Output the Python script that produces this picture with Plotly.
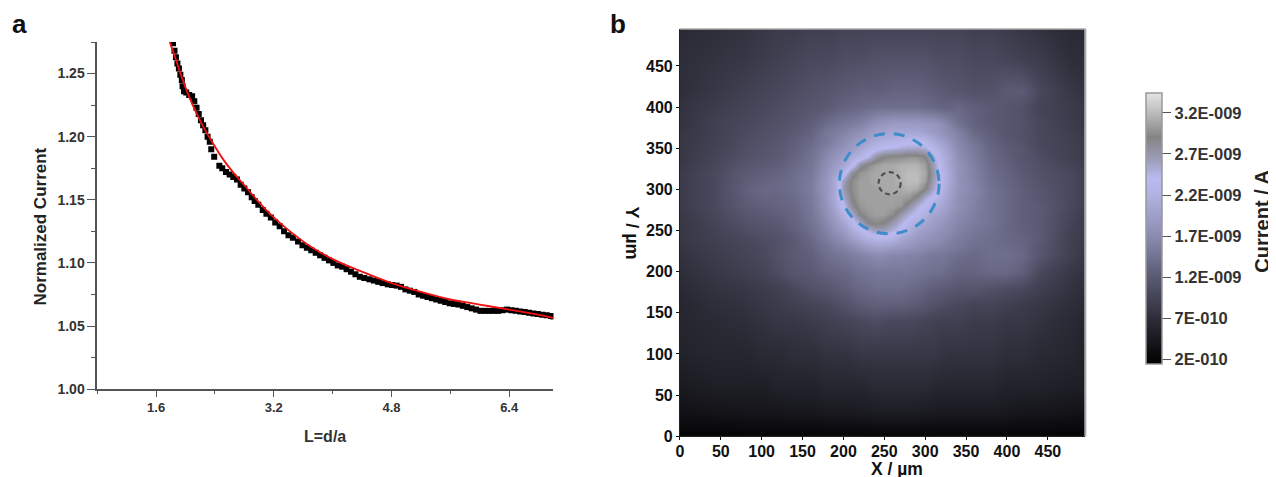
import plotly.graph_objects as go

W, H = 1276, 477

# Panel a: approach curve
scan_x = [1.83,1.85,1.87,1.89,1.91,1.93,1.95,1.96,1.98,2.01,2.05,2.09,2.12,2.15,2.18,2.21,2.24,2.27,2.30,2.33,2.35,2.39,
          2.46,2.50,2.55,2.60,2.65,2.70,2.75,2.80,2.85,2.90,2.94,2.99,3.05,3.10,3.16,3.22,3.28,3.34,3.40,3.46,3.53,3.59,
          3.65,3.71,3.77,3.83,3.89,3.95,4.01,4.07,4.13,4.19,4.25,4.31,4.37,4.43,4.50,4.56,4.62,4.68,4.75,4.81,4.87,4.93,
          4.99,5.05,5.11,5.17,5.23,5.29,5.35,5.41,5.47,5.53,5.59,5.65,5.71,5.77,5.83,5.89,5.95,6.01,6.07,6.13,6.19,6.25,
          6.31,6.37,6.43,6.49,6.55,6.61,6.67,6.73,6.79,6.85,6.91,6.97,7.0]
scan_y = [1.274,1.268,1.263,1.258,1.254,1.249,1.245,1.240,1.236,1.235,1.233,1.232,1.228,1.223,1.218,1.213,1.209,1.205,1.200,1.196,1.190,1.184,
          1.177,1.175,1.172,1.170,1.168,1.166,1.162,1.159,1.156,1.152,1.149,1.146,1.142,1.139,1.136,1.132,1.129,1.125,1.122,1.120,1.117,1.114,
          1.112,1.110,1.108,1.106,1.104,1.102,1.100,1.098,1.097,1.095,1.093,1.091,1.089,1.088,1.087,1.086,1.085,1.084,1.083,1.0825,1.082,1.081,
          1.079,1.078,1.077,1.075,1.074,1.073,1.072,1.071,1.070,1.069,1.068,1.0675,1.067,1.066,1.065,1.064,1.063,1.062,1.062,1.062,1.062,1.062,
          1.0625,1.063,1.0625,1.062,1.0615,1.061,1.0605,1.060,1.0595,1.059,1.0585,1.058,1.0575]
fit_x = [1.78,1.86,1.95,2.05,2.15,2.25,2.35,2.5,2.65,2.8,3.0,3.2,3.4,3.7,4.0,4.4,4.8,5.2,5.6,6.0,6.4,6.7,7.0]
fit_y = [1.276,1.2627,1.247,1.2315,1.2185,1.207,1.197,1.183,1.1715,1.1615,1.148,1.136,1.126,1.113,1.103,1.093,1.084,1.077,1.071,1.067,1.063,1.060,1.0565]

# Panel b: current map, values in units of 1E-10 A
map_x = [0,40,80,100,120,140,160,170,180,190,200,210,220,230,240,250,260,270,280,290,300,310,320,330,340,360,380,400,420,440,480,495]
map_y = [495,460,420,400,380,370,360,350,340,330,320,310,300,290,280,270,260,250,240,230,220,200,180,160,140,100,60,30,0]
map_current = [
 [6.5,7,7.5,8,8.5,8.5,9, 9,9,9.2,9.5,9.5,9.5,9.5,9.5,9.5,9.5,9.5,9.5,9.5,9.5,9.5,9.5,9.5,9.5, 9,9,8.5,8,7.5,6.5,6.5],
 [7,7.5,8,8.5,9,9.5,10, 10,10,10.2,10.5,10.5,10.5,10.7,11,11,11,11,11,11,11,10.7,10.5,10.5,10.5, 10,10,9.5,9,8.5,7,7],
 [7,8,9,9.5,10,10.5,11, 11.2,11.5,11.7,12,12.2,12.5,12.5,12.5,12.7,13,13,13,13,12.7,12.5,12,11.7,11.5, 11,11,12,12,10,8,7.5],
 [7.5,8.5,9.5,10,10.5,11,11.5, 11.7,12,12.5,13,13.2,13.5,13.7,14,14,14,14,14,14,13.7,13.5,13,13,13.5, 12.5,12,11.5,11,9.5,8.5,8],
 [7.5,9,10,10.5,11,11.5,12.5, 13.2,14,14.5,15,15.5,16,17,18,18.5,19,19,19,19,18.7,18.5,17.5,16,14.5, 13,12,11.5,11,10,8.5,8],
 [7.8,9,10.2,10.8,11.2,12,13, 14,15,15.5,16,17,17.5,18.5,19.5,20,20.5,20.5,20.5,20.5,20,19,18,17,16, 13.5,12.5,11.5,11,10,8.8,8.2],
 [8,9,10.5,11,11.5,12.5,13.5, 14.5,15,16,17,18,19,20,21,21.5,22,22.5,23,23,22.5,21,19.5,18,16.5, 14.5,12.8,11.8,11,10,9,8.5],
 [8,9.2,10.7,11.2,11.8,12.7,14, 15,16,17,18,19,20.5,22,23,24,24.5,25,25.5,25.5,25,23,21,19,17, 15.2,13.2,12.2,11.5,10.2,9,8.5],
 [8,9.5,11,11.5,12,13,14.5, 15.5,17,18,19.5,21,22.5,24.5,27.5,29,29.5,29.5,30,30,29,25.5,22,20,17.5, 15.5,13.5,12.5,11.5,10.5,9,8.5],
 [8.2,9.7,11.5,12,12.5,13.5,14.7, 16,17.5,19,20.5,23,27.5,29.5,30.5,31,31,31.5,31.5,31.5,30.5,26.5,22.5,20,18, 15.8,13.7,12.7,11.7,10.8,9.5,8.7],
 [8.5,10,12,12.5,13,14,15, 16.5,18,20,23,28,30,30.5,31,31,31,31.5,32,32,31,27,23,20.5,18, 16,14,13,12,11,10,9],
 [8.5,10,12.2,13,13.5,14,15.2, 17,18.5,21,26.5,29.5,30.5,30.5,31,31,31,31.5,32,32,30.5,26.5,23,20.5,18, 16.2,14.2,13.2,12.2,11.2,10,9],
 [8.5,10,12.5,13.5,13.5,14,15.5, 17,18.5,21,27,29.5,30.5,30.5,30.5,31,31,31,31.5,31,29,25.5,22.5,20,18, 16.5,14.5,13.5,12.5,11.5,10,9],
 [8.5,10,12.2,13,13.2,13.7,15.2, 16.5,18.5,21,25.5,29,30.5,30.5,30.5,30.5,30.5,30.5,30,28,25,23.5,21.5,19.5,17.5, 16.2,14.5,13.5,12.5,11.7,10,9],
 [8.5,10,12,12.5,13,13.5,15, 16.5,18,20.5,24,28,30,30.5,30.5,30.5,30.5,30,27.5,25,23.5,22,20.5,19,17.5, 16,14.5,13.5,12.5,12,10,9],
 [8.2,9.7,11.5,12,12.5,13.2,14.7, 16,17.5,19.5,22.5,25.5,29,30,30.5,30.5,29.5,27,25,23.5,22,20.5,19.5,18,17, 15.7,14.5,13.5,12.5,12,9.7,8.7],
 [8,9.5,11,11.5,12,13,14.5, 15.5,17,18.5,20.5,23,26,29,29.5,29,27,25,23,21.5,20.5,19.5,18.5,17.5,16.5, 15.5,14.5,13.5,12.5,12,9.5,8.5],
 [8,9.2,10.5,11,11.5,12.5,14, 15,16,17.5,19,21,22.5,24.5,26,26,24.5,23,21.5,20,19,18.5,17.5,17,16, 15,14.2,13.5,12.7,12,9.2,8.5],
 [8,9,10,10.5,11,12,13.5, 14.5,15.5,16.5,17.5,19,20.5,21.5,22.5,22.5,22,20.5,19.5,18.5,18,17.5,17,16,15.5, 14.5,14,13.5,13,12,9,8.5],
 [7.8,8.7,9.7,10.2,11,12,13, 14,14.5,15.5,16,17,18,19,19.5,19.5,19,18.5,18,17.5,17,16.5,16,15.5,15, 14,14,13.7,13.2,11.7,9,8.2],
 [7.5,8.5,9.5,10,11,12,12.5, 13.5,14,14.5,15,15.5,16,16.5,17,17,16.5,16.5,16,16,15.5,15,15,14.5,14, 13.5,14,14,13.5,11.5,9,8],
 [7,8,9,9.5,10.5,11.5,12, 12.5,13,13.2,13.5,14,14.5,14.7,15,15,15,15,15,14.7,14.5,14.2,14,13.5,13, 13,13.5,13.5,12.5,10,8,7.5],
 [6.5,7.5,8,8.5,9,10,11, 11.2,11.5,12,12.5,13,13.5,13.7,14,14,14,14,13.7,13.5,13,12.5,12.2,12,11.5, 11.5,11,10.5,10,9,7.5,7],
 [6,7,7.5,8,8.5,9,9.5, 9.7,10,10.5,11,11.5,12,12.2,12.5,12.5,12.5,12.5,12.2,12,11.5,11,10.7,10.2,10, 9.5,9.5,9,8.5,8,7,6.5],
 [6,6.5,7,7.5,8,8,8.5, 8.7,9,9.2,9.5,9.7,10,10.2,10.5,10.2,10,10,10,9.7,9.5,9.2,9,9,9, 8.5,8.5,8,8,7.5,6.5,6],
 [5.5,6,6,6.5,6.5,7,7, 7.2,7.5,7.5,7.5,7.7,8,8,8,8,8,8,8,8,8,8,7.7,7.5,7.5, 7.5,7.5,7,7,6.5,6,5.5],
 [4.5,5,5,5,5.5,5.5,5.5, 5.7,6,6,6,6,6,6.2,6.5,6.5,6.5,6.5,6.5,6.5,6.5,6.2,6,6,6, 6,6,5.5,5.5,5.5,5,5],
 [3.5,3.7,3.9,4,4,4.2,4.2, 4.3,4.4,4.5,4.5,4.5,4.6,4.7,4.8,4.8,4.8,4.8,4.8,4.8,4.7,4.6,4.5,4.5,4.5, 4.5,4.5,4.3,4,4,3.7,3.5],
 [2,2,2,2,2,2,2, 2,2,2,2,2,2,2,2,2,2,2,2,2,2,2,2,2,2, 2,2,2,2,2,2,2],
]
assert all(len(r) == len(map_x) for r in map_current) and len(map_current) == len(map_y)
bar_vals = [2, 7, 12, 17, 22, 27, 32]
bar_text = ["2E-010", "7E-010", "1.2E-009", "1.7E-009", "2.2E-009", "2.7E-009", "3.2E-009"]
zmin, zmax = 1.4, 34.4
stops = [(1.4,"#000000"),(7,"#2e2e3a"),(12,"#5a5a74"),(17,"#8c8cb2"),(22,"#b2b2e2"),(24,"#babaf2"),
         (26,"#a0a0c0"),(29,"#848484"),(32,"#bcbcbc"),(34.4,"#e4e4e4")]
colorscale = [[(v-zmin)/(zmax-zmin), c] for v, c in stops]

SANS = "Liberation Sans"
# page placement offset observed in the rendered picture
def PX(x): return (x-10)/W
def PY(y): return 1-(y-8.1)/0.978/H
def dx(a, b): return [PX(a), PX(b)]
def dy(top, bottom): return [PY(bottom), PY(top)]

fig = go.Figure()
fig.add_trace(go.Scatter(x=scan_x, y=scan_y, mode="markers", xaxis="x", yaxis="y", showlegend=False,
                         marker=dict(symbol="square", size=6, color="#000000")))
fig.add_trace(go.Scatter(x=fit_x, y=fit_y, mode="lines", xaxis="x", yaxis="y", showlegend=False,
                         line=dict(color="#f01010", width=1.8, shape="spline")))
fig.add_trace(go.Heatmap(x=map_x, y=map_y, z=map_current, xaxis="x2", yaxis="y2", zsmooth="best",
                         zmin=zmin, zmax=zmax, colorscale=colorscale,
                         colorbar=dict(x=PX(1148), xanchor="left", xpad=0, y=PY(93), yanchor="top", ypad=0,
                                       lenmode="pixels", len=271, thicknessmode="pixels", thickness=16,
                                       tickmode="array", tickvals=bar_vals, ticktext=bar_text,
                                       ticks="outside", ticklen=9, tickwidth=1, tickcolor="#555555",
                                       outlinecolor="#999999", outlinewidth=1.5,
                                       tickfont=dict(family=SANS, size=16.5, weight=700, color="#333333"))))

axc = "#555555"
def label(text, x, y, size, weight=700, angle=0, family=SANS, color="#222222"):
    return dict(text=text, xref="paper", yref="paper", x=PX(x), y=PY(y), xanchor="center", yanchor="middle",
                textangle=angle, showarrow=False, font=dict(family=family, size=size, weight=weight, color=color))

layout = dict(
    width=W, height=H, margin=dict(l=0, r=0, t=0, b=0), paper_bgcolor="white", plot_bgcolor="white",
    font=dict(family=SANS), showlegend=False,
    xaxis=dict(domain=dx(95.5, 553), range=[0.8, 7.0], showgrid=False, zeroline=False, showline=True, linecolor=axc,
               linewidth=1.5, ticks="outside", ticklen=6, tickwidth=1, tickcolor=axc, tick0=1.6, dtick=1.6,
               tickformat=".1f", anchor="y", tickfont=dict(size=13, weight=700, color="#333333"),
               minor=dict(ticks="outside", ticklen=3, tickwidth=1, tickcolor=axc, tick0=0.8, dtick=1.6, showgrid=False)),
    yaxis=dict(domain=dy(42, 388), range=[1.0, 1.275], showgrid=False, zeroline=False, showline=True, linecolor=axc,
               linewidth=1.5, ticks="outside", ticklen=8, tickwidth=1, tickcolor=axc, tick0=1.0, dtick=0.05,
               tickformat=".2f", anchor="x", tickfont=dict(size=14, weight=700, color="#333333"),
               minor=dict(ticks="outside", ticklen=4, tickwidth=1, tickcolor=axc, tick0=1.025, dtick=0.05, showgrid=False)),
    xaxis2=dict(domain=dx(680, 1086), range=[0, 495], showgrid=False, zeroline=False, showline=True, linecolor="#222222",
                linewidth=1, ticks="outside", ticklen=3, tickwidth=1, tickcolor="#111111", dtick=50, anchor="y2",
                ticklabelstandoff=-2, tickfont=dict(size=16, weight=700, color="#111111")),
    yaxis2=dict(domain=dy(29, 435), range=[0, 495], showgrid=False, zeroline=False, showline=True, linecolor="#222222",
                linewidth=1, ticks="outside", ticklen=3, tickwidth=1, tickcolor="#111111", dtick=50, anchor="x2",
                tickfont=dict(size=16, weight=700, color="#111111")),
    annotations=[
        label("a", 17.5, 24, 26, color="#111111"),
        label("b", 618, 24, 26, color="#111111"),
        label("Normalized Current", 39, 226, 17, angle=-90),
        label("L=d/a", 324, 435, 16, color="#333333"),
        label("X / µm", 898, 468, 17.5, color="#111111"),
        label("Y / µm", 632, 232, 18, angle=90, color="#111111"),
        label("Current / A", 1264, 221, 20, angle=-90),
    ],
    shapes=[
        dict(type="circle", xref="x2", yref="y2", x0=195, x1=317, y0=246, y1=368,
             line=dict(color="#3f8ccb", width=3, dash="11px,9px")),
        dict(type="circle", xref="x2", yref="y2", x0=243, x1=270, y0=294, y1=321,
             line=dict(color="#505050", width=2.2, dash="5px,3.5px")),
        dict(type="line", xref="paper", yref="paper", x0=PX(680), x1=PX(1087), y0=PY(29), y1=PY(29),
             line=dict(color="#aaaaaa", width=1.5)),
        dict(type="line", xref="paper", yref="paper", x0=PX(1087), x1=PX(1087), y0=PY(29), y1=PY(435),
             line=dict(color="#aaaaaa", width=1.5)),
    ],
)
fig.update_layout(**layout)
fig.write_html("out.html")
